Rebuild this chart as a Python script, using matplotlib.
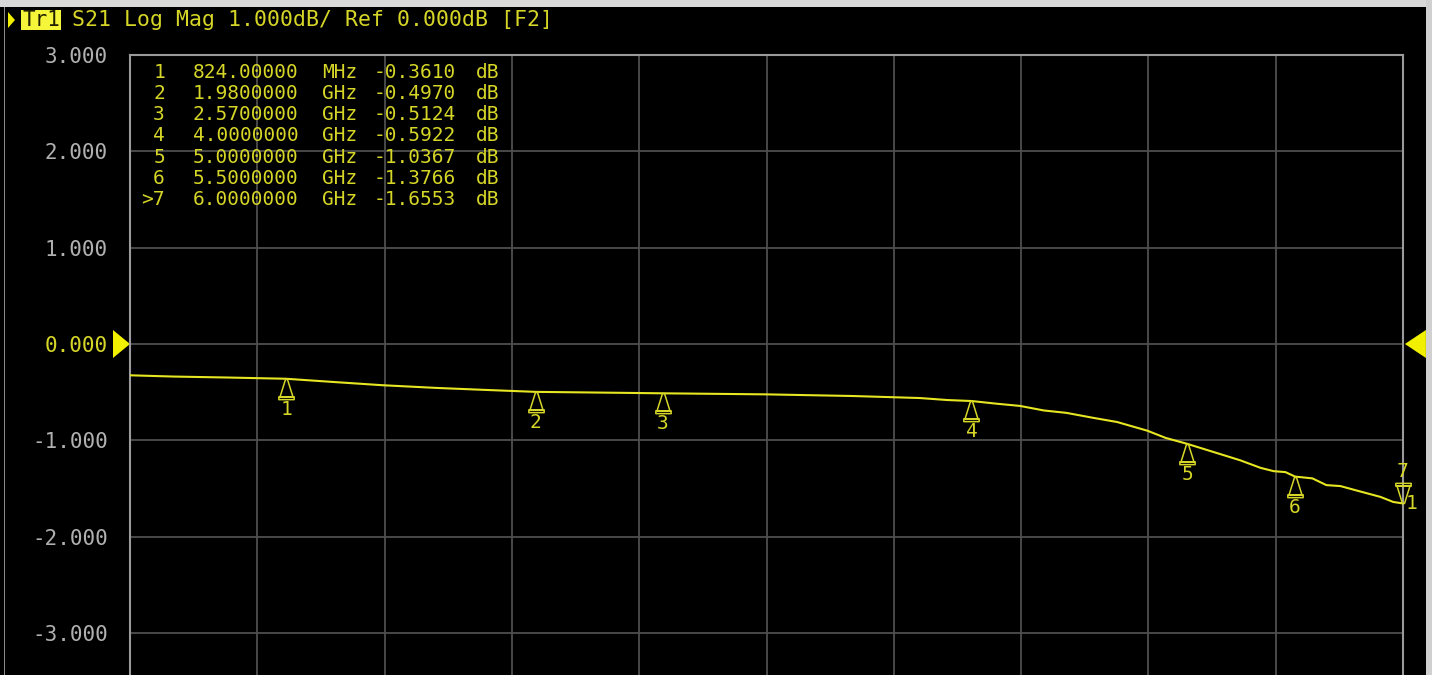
import matplotlib.pyplot as plt
from matplotlib.path import Path
from matplotlib.patches import Polygon, Rectangle

# S21 trace, frequency in GHz, magnitude in dB
freq_ghz = [0.1, 0.3, 0.55, 0.824, 1.04, 1.27, 1.52, 1.75, 1.98, 2.3, 2.57, 3.05,
            3.45, 3.76, 3.89, 4.0, 4.117, 4.225, 4.335, 4.44, 4.56, 4.675, 4.815,
            4.9, 5.0, 5.12, 5.245, 5.34, 5.40, 5.455, 5.5, 5.58, 5.645, 5.71, 5.80,
            5.895, 5.955, 6.0]
s21_db = [-0.325, -0.338, -0.348, -0.361, -0.394, -0.428, -0.456, -0.477, -0.497,
          -0.505, -0.512, -0.523, -0.540, -0.561, -0.582, -0.592, -0.620, -0.643,
          -0.690, -0.715, -0.765, -0.810, -0.900, -0.975, -1.0367, -1.120, -1.207,
          -1.286, -1.320, -1.330, -1.3766, -1.395, -1.465, -1.475, -1.530, -1.587,
          -1.640, -1.6553]

# marker table
mk_freq = [0.824, 1.98, 2.57, 4.0, 5.0, 5.5, 6.0]
mk_db = [-0.3610, -0.4970, -0.5124, -0.5922, -1.0367, -1.3766, -1.6553]
active_marker = 7

f_start, f_stop = 0.1, 6.0
y_top, y_bottom = 3.0, -7.0
y_ticks = [3, 2, 1, 0, -1, -2, -3, -4, -5, -6, -7]

W, H = 1432, 675
YEL = '#e6e622'
TXT_YEL = '#d6d628'
MONO = 'DejaVu Sans Mono'


def fig_xy(x, y):
    return x / W, 1 - y / H


fig = plt.figure(figsize=(W / 100, H / 100), dpi=100, facecolor='black')

# window frame bits
fig.add_artist(Rectangle((0, 1 - 7 / H), 1, 7 / H, transform=fig.transFigure,
                         facecolor='#d9d9d9', edgecolor='none'))
fig.add_artist(Rectangle((1426 / W, 0), 6 / W, 1, transform=fig.transFigure,
                         facecolor='#d0d0d0', edgecolor='none'))
fig.add_artist(Rectangle((4 / W, 0), 1.2 / W, 1 - 7 / H, transform=fig.transFigure,
                         facecolor='#8a8a8a', edgecolor='none'))

px_per_db = 96.33
ax_h = (y_top - y_bottom) * px_per_db
ax = fig.add_axes([130 / W, 1 - (55 + ax_h) / H, 1273 / W, ax_h / H])
ax.set_facecolor('black')
ax.set_xlim(f_start, f_stop)
ax.set_ylim(y_bottom, y_top)

step = (f_stop - f_start) / 10
ax.set_xticks([f_start + i * step for i in range(11)])
ax.set_xticklabels([])
ax.set_yticks(y_ticks)
# lower divisions are below the visible screen, leave them unlabelled
ax.set_yticklabels([f'{v:.3f}' if v >= -3 else '' for v in y_ticks], family=MONO,
                   fontsize=15, color='#b0b0b0')
for lbl, v in zip(ax.get_yticklabels(), y_ticks):
    if v == 0:
        lbl.set_color(TXT_YEL)
ax.tick_params(length=0, pad=16)
ax.grid(True, color='#4e4e4e', lw=1.3)
for sp in ax.spines.values():
    sp.set_color('#9a9a9a')
    sp.set_linewidth(1.5)

ax.plot(freq_ghz, s21_db, color=YEL, lw=1.5, zorder=3)

# reference level arrows on both sides
yt = ax.get_yaxis_transform()
hw = 14 / px_per_db
ax.add_patch(Polygon([(-17 / 1273, hw), (-17 / 1273, -hw), (0, 0)], closed=True,
                     transform=yt, clip_on=False, facecolor='#f0f000', edgecolor='none'))
ax.add_patch(Polygon([(1.018, hw), (1.018, -hw), (1.0015, 0)], closed=True,
                     transform=yt, clip_on=False, facecolor='#f0f000', edgecolor='none'))

# marker symbols
up_verts = [(-0.05, 0), (0.05, 0), (0.32, -0.86), (-0.32, -0.86), (-0.05, 0),
            (-0.38, -0.86), (0.38, -0.86), (0.38, -1), (-0.38, -1), (-0.38, -0.86)]
up_codes = [Path.MOVETO, Path.LINETO, Path.LINETO, Path.LINETO, Path.CLOSEPOLY,
            Path.MOVETO, Path.LINETO, Path.LINETO, Path.LINETO, Path.CLOSEPOLY]
up_mark = Path(up_verts, up_codes)
down_mark = Path([(x, -y) for x, y in up_verts], up_codes)

for i, (f, v) in enumerate(zip(mk_freq, mk_db), start=1):
    if i == active_marker:
        ax.plot(f, v, marker=down_mark, ms=29, mfc='none', mec=TXT_YEL, mew=1.1,
                ls='none', clip_on=False, zorder=4)
        ax.annotate(str(i), (f, v), xytext=(0, 23), textcoords='offset points',
                    ha='center', va='center', family=MONO, fontsize=14,
                    color=TXT_YEL, annotation_clip=False)
    else:
        ax.plot(f, v, marker=up_mark, ms=29, mfc='none', mec=TXT_YEL, mew=1.1,
                ls='none', zorder=4)
        ax.annotate(str(i), (f, v), xytext=(0, -22), textcoords='offset points',
                    ha='center', va='center', family=MONO, fontsize=14,
                    color=TXT_YEL)

# trace number at the end of the trace
ax.annotate('1', (freq_ghz[-1], s21_db[-1]), xytext=(2, 0), textcoords='offset points',
            ha='left', va='center', family=MONO, fontsize=14, color=TXT_YEL,
            annotation_clip=False)

# marker readout table
for i, (f, v) in enumerate(zip(mk_freq, mk_db), start=1):
    y = 72 + (i - 1) * 21.3
    if f < 1:
        f_txt, unit = f'{f * 1000:.5f}', 'MHz'
    else:
        f_txt, unit = f'{f:.7f}', 'GHz'
    tag = f'>{i}' if i == active_marker else f'{i}'
    for x, s, ha in [(165, tag, 'right'), (193, f_txt, 'left'), (322, unit, 'left'),
                     (374, f'{v:.4f}', 'left'), (476, 'dB', 'left')]:
        fig.text(*fig_xy(x, y), s, ha=ha, va='center', family=MONO, fontsize=14,
                 color=TXT_YEL)

# title line
fig.add_artist(Polygon([fig_xy(8, 12), fig_xy(8, 28), fig_xy(15, 20)], closed=True,
                       transform=fig.transFigure, facecolor='#f0f000', edgecolor='none'))
fig.add_artist(Rectangle(fig_xy(21, 30), 40 / W, 20 / H, transform=fig.transFigure,
                         facecolor='#f5f53a', edgecolor='none'))
fig.text(*fig_xy(41, 20), 'Tr1', ha='center', va='center', family=MONO,
         fontsize=15, color='#202000')
fig.text(*fig_xy(72, 20), 'S21 Log Mag 1.000dB/ Ref 0.000dB [F2]', ha='left',
         va='center', family=MONO, fontsize=15.5, color=TXT_YEL)

fig.savefig('out.png', dpi=100, facecolor='black')
